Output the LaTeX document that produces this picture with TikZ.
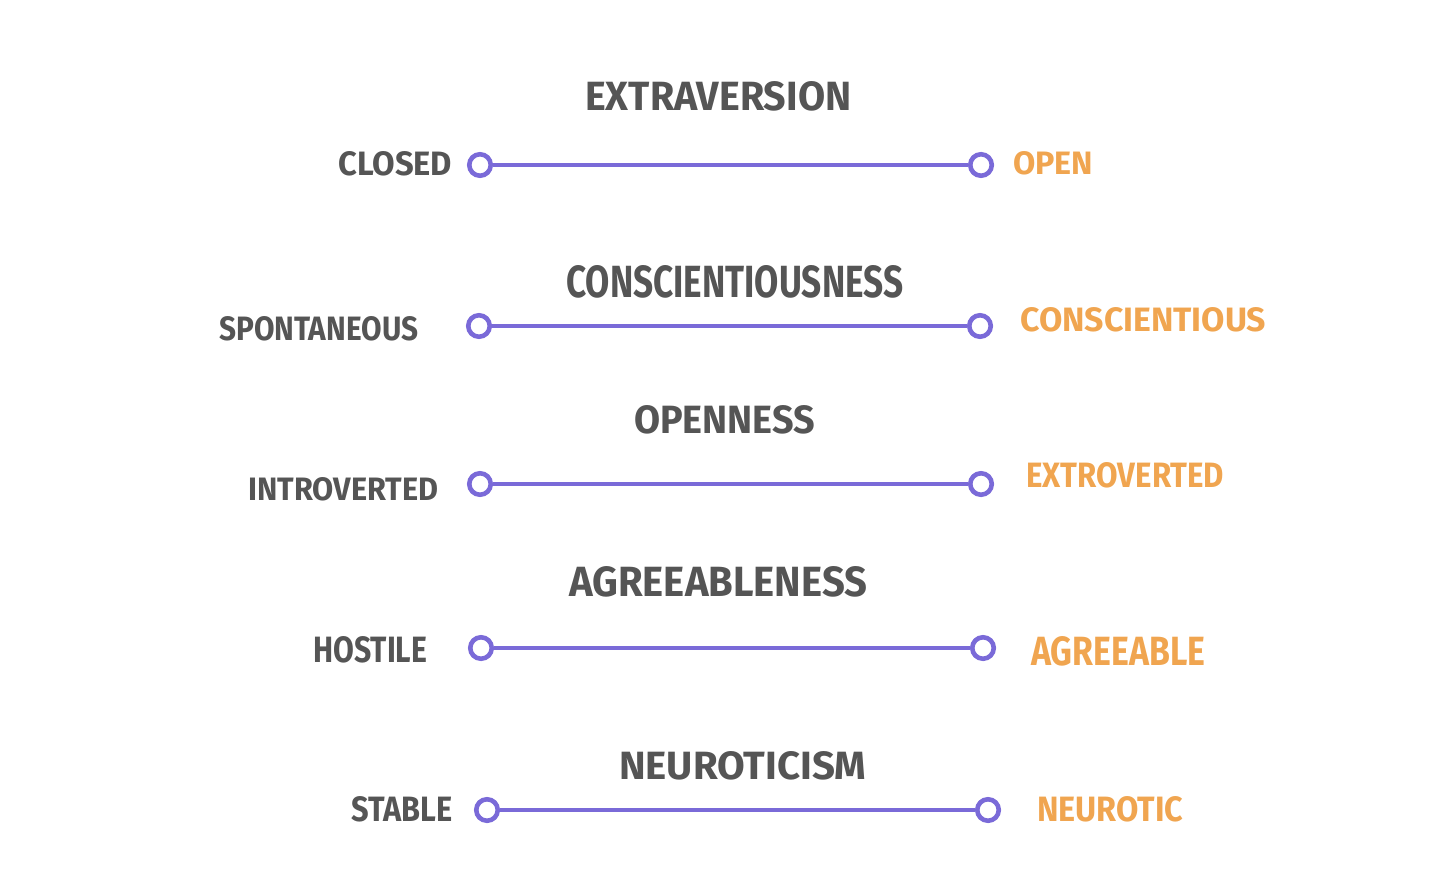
\documentclass[tikz,border=0pt]{standalone}
\usepackage{fontspec}
\setmainfont{Fira Sans}
\usepackage{graphicx}
\definecolor{trait}{HTML}{555555}
\definecolor{pole}{HTML}{F0A550}
\definecolor{scale}{HTML}{7A6AD8}
\newcommand{\fitlbl}[3]{\resizebox{#1pt}{#2pt}{\bfseries #3}}
\begin{document}
\begin{tikzpicture}[x=1pt,y=-1pt,
  endpt/.style={circle,draw=scale,line width=4.6pt,fill=white,minimum size=21.5pt,inner sep=0pt},
  bar/.style={draw=scale,line width=4.4pt},
  title/.style={text=trait,inner sep=0pt,anchor=west},
  lowlbl/.style={text=trait,inner sep=0pt,anchor=west},
  highlbl/.style={text=pole,inner sep=0pt,anchor=west}]
\useasboundingbox (0,0) rectangle (1442,882);
% Row 1
\node[title] (t1) at (585,96.5) {\fitlbl{266}{29}{EXTRAVERSION}};
\node[endpt] (a1) at (480,165) {};
\node[endpt] (b1) at (981,165) {};
\draw[bar] (a1) -- (b1);
\node[lowlbl] (l1) at (338,164) {\fitlbl{114}{24}{CLOSED}};
\node[highlbl] (r1) at (1013,163.5) {\fitlbl{80}{23}{OPEN}};
% Row 2
\node[title] (t2) at (566,282) {\fitlbl{337}{32}{CONSCIENTIOUSNESS}};
\node[endpt] (a2) at (479,326) {};
\node[endpt] (b2) at (980,326) {};
\draw[bar] (a2) -- (b2);
\node[lowlbl] (l2) at (219,329) {\fitlbl{199}{24}{SPONTANEOUS}};
\node[highlbl] (r2) at (1020,320) {\fitlbl{246}{24}{CONSCIENTIOUS}};
% Row 3
\node[title] (t3) at (634,420) {\fitlbl{181}{28}{OPENNESS}};
\node[endpt] (a3) at (480,484) {};
\node[endpt] (b3) at (981,484) {};
\draw[bar] (a3) -- (b3);
\node[lowlbl] (l3) at (248,489.5) {\fitlbl{190}{23}{INTROVERTED}};
\node[highlbl] (r3) at (1026,475.5) {\fitlbl{198}{25}{EXTROVERTED}};
% Row 4
\node[title] (t4) at (569,582) {\fitlbl{298}{30}{AGREEABLENESS}};
\node[endpt] (a4) at (481,648) {};
\node[endpt] (b4) at (983,648) {};
\draw[bar] (a4) -- (b4);
\node[lowlbl] (l4) at (313,650) {\fitlbl{114}{26}{HOSTILE}};
\node[highlbl] (r4) at (1031,651.5) {\fitlbl{174}{29}{AGREEABLE}};
% Row 5
\node[title] (t5) at (619,766) {\fitlbl{247}{28}{NEUROTICISM}};
\node[endpt] (a5) at (487,810) {};
\node[endpt] (b5) at (988,810) {};
\draw[bar] (a5) -- (b5);
\node[lowlbl] (l5) at (351,809.5) {\fitlbl{101}{25}{STABLE}};
\node[highlbl] (r5) at (1037,809.5) {\fitlbl{146}{25}{NEUROTIC}};
\end{tikzpicture}
\end{document}
